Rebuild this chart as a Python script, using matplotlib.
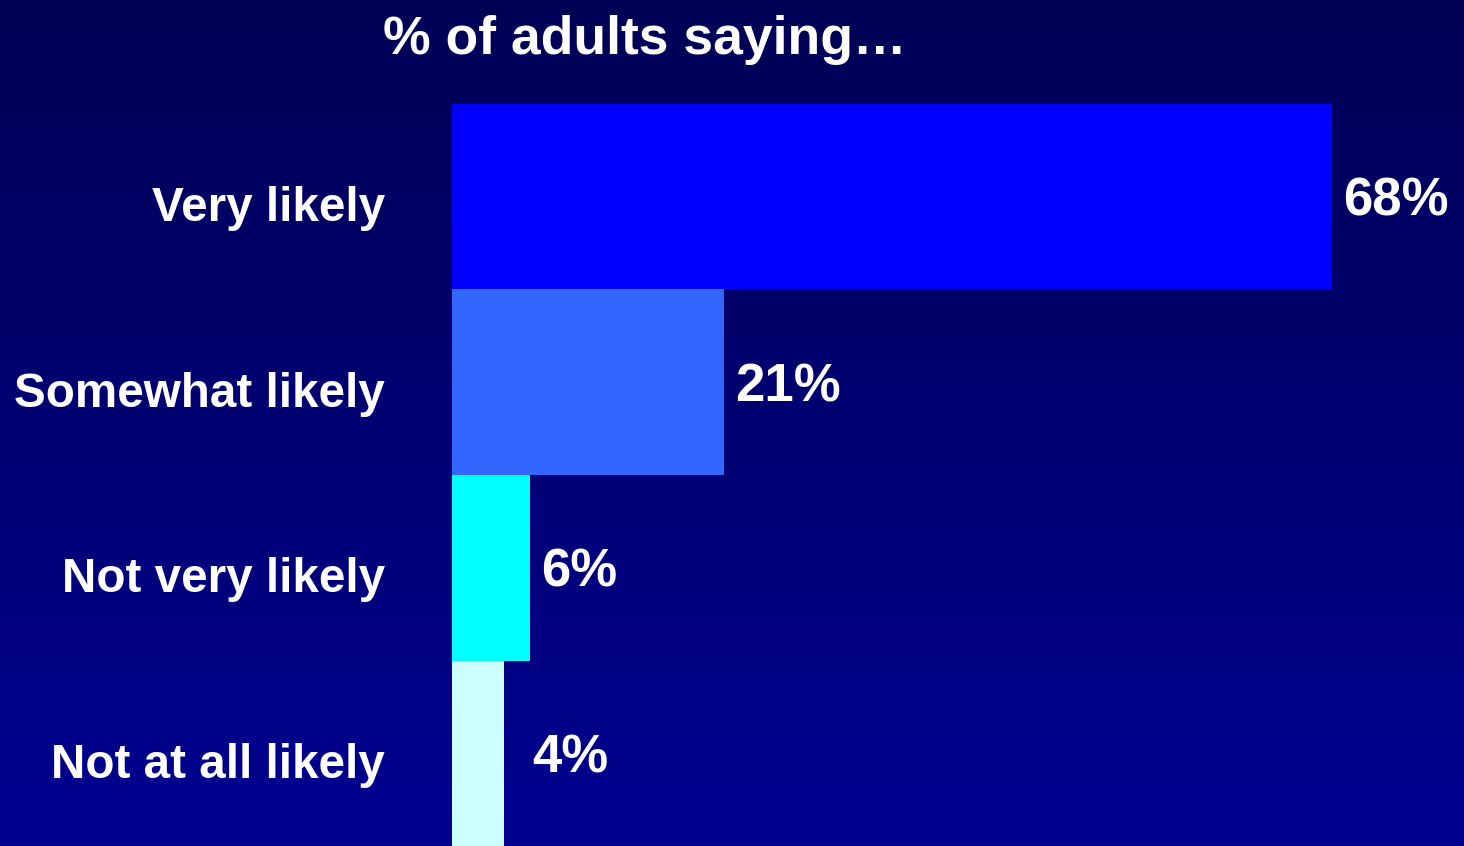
import matplotlib.pyplot as plt
import numpy as np

# likelihood answers, top to bottom
categories = ['Very likely', 'Somewhat likely', 'Not very likely', 'Not at all likely']
values = [68, 21, 6, 4]
bar_colors = ['#0000FF', '#3366FF', '#00FFFF', '#CCFFFF']
title = '% of adults saying\u2026'

plt.rcParams['font.family'] = ['Liberation Sans', 'DejaVu Sans']
plt.rcParams['font.weight'] = 'bold'

W, H = 1464, 846
fig = plt.figure(figsize=(W / 100, H / 100), dpi=100)

# navy background, darker at the top
bg = fig.add_axes([0, 0, 1, 1])
grad = np.linspace(0, 1, 256).reshape(-1, 1)
top = np.array([0x00, 0x00, 0x55]) / 255
bot = np.array([0x00, 0x00, 0x90]) / 255
img = top + (bot - top) * grad[:, :, None]
bg.imshow(img, aspect='auto', extent=[0, 1, 0, 1], origin='upper')
bg.axis('off')

# bar area in pixels: left edge 452, top 104, bottom 846
ax = fig.add_axes([452 / W, 0, 1 - 452 / W, (846 - 104) / H])
ax.patch.set_alpha(0)
px_per_pct = 12.94
ax.set_xlim(0, (W - 452) / px_per_pct)
ax.set_ylim(len(values) - 0.5, -0.5)
y = np.arange(len(values))
ax.barh(y, values, height=1.0, color=bar_colors, edgecolor='none')
ax.axis('off')

label_pad = [11, 11, 11, 28]
for i, (cat, v) in enumerate(zip(categories, values)):
    ax.annotate(cat, xy=(0, i), xycoords=('axes fraction', 'data'),
                xytext=(-67, -12), textcoords='offset pixels',
                ha='right', va='center', color='white', fontsize=34.3, fontweight='bold')
    ax.annotate(f'{v}%', xy=(v, i), xycoords='data',
                xytext=(label_pad[i], -5), textcoords='offset pixels',
                ha='left', va='center', color='white', fontsize=38, fontweight='bold')

fig.text(645 / W, 1 - 40 / H, title, ha='center', va='center',
         color='white', fontsize=38.5, fontweight='bold')

plt.savefig('out.png', dpi=100)
